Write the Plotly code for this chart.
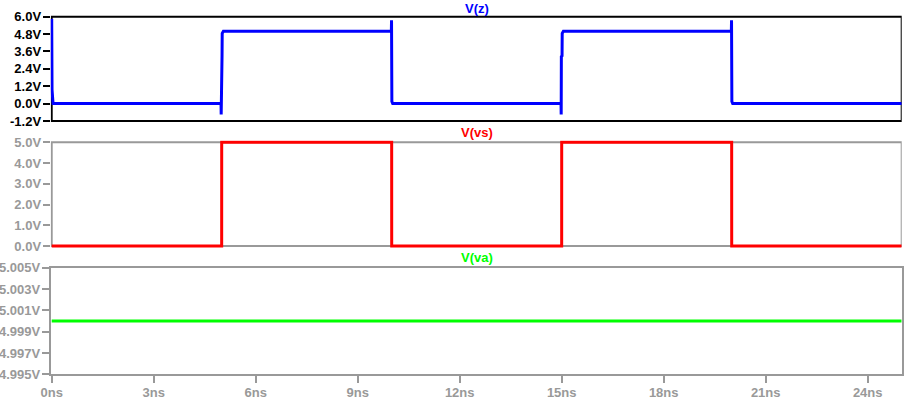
import plotly.graph_objects as go

W, H = 905, 399

# ---- data ----
t_z = [0.0, 0.01, 0.04, 4.98, 4.985, 4.99, 5.01, 5.015, 5.05, 9.99, 9.995, 10.005, 10.03,
       14.98, 14.985, 14.99, 15.01, 15.015, 15.05, 19.99, 19.995, 20.005, 20.03, 25.0]
v_z = [5.85, 0.95, 0.0, 0.0, -0.75, 3.25, 3.3, 4.85, 5.0, 5.0, 5.75, 0.15, 0.0,
       0.0, -0.75, 3.25, 3.3, 4.85, 5.0, 5.0, 5.75, 0.15, 0.0, 0.0]

t_vs = [0.0, 4.999, 5.0, 9.999, 10.0, 14.999, 15.0, 19.999, 20.0, 25.0]
v_vs = [0.0, 0.0, 5.0, 5.0, 0.0, 0.0, 5.0, 5.0, 0.0, 0.0]

t_va = [0.0, 25.0]
v_va = [5.0, 5.0]

x_ticks = [0, 3, 6, 9, 12, 15, 18, 21, 24]
x_ticktext = [f"{v}ns" for v in x_ticks]
z_ticks = [6.0, 4.8, 3.6, 2.4, 1.2, 0.0, -1.2]
z_ticktext = ["6.0V", "4.8V", "3.6V", "2.4V", "1.2V", "0.0V", "-1.2V"]
vs_ticks = [5.0, 4.0, 3.0, 2.0, 1.0, 0.0]
vs_ticktext = ["5.0V", "4.0V", "3.0V", "2.0V", "1.0V", "0.0V"]
va_ticks = [5.005, 5.003, 5.001, 4.999, 4.997, 4.995]
va_ticktext = ["5.005V", "5.003V", "5.001V", "4.999V", "4.997V", "4.995V"]

GRAY = "#999999"
FONT = "Liberation Sans"
FS = 13

def py(px):
    return 1 - px / H

x0px, x1px = 51.7, 901.7
xpadpx = 1.0
ns_per_px = 25.0 / (x1px - x0px)
xrange_ = [0 - xpadpx * ns_per_px, 25]
xdom = [(x0px - xpadpx) / W, x1px / W]

fig = go.Figure()
fig.add_trace(go.Scatter(x=t_z, y=v_z, mode="lines", line=dict(color="#0000ff", width=3),
                         xaxis="x", yaxis="y", showlegend=False))
fig.add_trace(go.Scatter(x=t_vs, y=v_vs, mode="lines", line=dict(color="#ff0000", width=3),
                         xaxis="x2", yaxis="y2", showlegend=False))
fig.add_trace(go.Scatter(x=t_va, y=v_va, mode="lines", line=dict(color="#00ff00", width=3),
                         xaxis="x3", yaxis="y3", showlegend=False))

pad = 2.0
p1 = (16.7, 121.0)
p2 = (142.3, 246.0)
p3 = (267.7, 374.3)

def padded(rng, top, bot):
    lo, hi = rng
    per = (hi - lo) / (bot - top)
    return [lo - pad * per, hi + pad * per], [py(bot + pad), py(top - pad)]

r1, d1 = padded((-1.2, 6.0), *p1)
r2, d2 = padded((0.0, 5.0), *p2)

tickfont_k = dict(family=FONT, size=FS, color="black", weight="bold")
tickfont_g = dict(family=FONT, size=FS, color=GRAY, weight="bold")

xcommon = dict(range=xrange_, domain=xdom, showgrid=False, zeroline=False, fixedrange=True,
               automargin=False)
ycommon = dict(showgrid=False, zeroline=False, automargin=False, ticks="outside", ticklen=7,
               tickwidth=2, layer="below traces", ticklabelstandoff=-1)
fig.update_layout(
    width=W, height=H, autosize=False,
    margin=dict(l=0, r=0, t=0, b=0),
    paper_bgcolor="white", plot_bgcolor="white",
    xaxis=dict(**xcommon, showticklabels=False, ticks="", showline=False, anchor="y"),
    xaxis2=dict(**xcommon, showticklabels=False, ticks="", showline=False, anchor="y2", matches="x"),
    xaxis3=dict(**xcommon, anchor="y3", matches="x", tickvals=x_ticks, ticktext=x_ticktext,
                ticks="outside", ticklen=7, tickwidth=2, tickcolor=GRAY, tickfont=tickfont_g,
                ticklabelstandoff=-2,
                showline=True, linecolor=GRAY, linewidth=2, mirror=True, layer="below traces"),
    yaxis=dict(**ycommon, range=r1, domain=d1, anchor="x",
               tickvals=z_ticks, ticktext=z_ticktext,
               tickcolor="black", tickfont=tickfont_k, showline=False),
    yaxis2=dict(**ycommon, range=r2, domain=d2, anchor="x2",
                tickvals=vs_ticks, ticktext=vs_ticktext,
                tickcolor=GRAY, tickfont=tickfont_g, showline=False),
    yaxis3=dict(**ycommon, range=[4.995, 5.005], domain=[py(p3[1]), py(p3[0])], anchor="x3",
                tickvals=va_ticks, ticktext=va_ticktext, tickcolor=GRAY, tickfont=tickfont_g,
                showline=True, linecolor=GRAY, linewidth=2, mirror=True),
)

fig.add_shape(type="rect", xref="x", yref="y", x0=0, x1=25, y0=-1.2, y1=6.0,
              line=dict(color="black", width=2), layer="below")
fig.add_shape(type="rect", xref="x2", yref="y2", x0=0, x1=25, y0=0.0, y1=5.0,
              line=dict(color=GRAY, width=2), layer="below")

titles = [("V(z)", "#0000ff", 8.3), ("V(vs)", "#ff0000", 132.5), ("V(va)", "#00ff00", 257.5)]
for txt, col, ypx in titles:
    fig.add_annotation(text=txt, x=(x0px + x1px) / 2 / W, y=py(ypx), xref="paper", yref="paper",
                       xanchor="center", yanchor="middle", showarrow=False,
                       font=dict(family=FONT, size=FS, color=col, weight="bold"))

fig.write_html("out.html", config={"displayModeBar": False},
               post_script="document.body.style.margin='0';document.body.style.overflow='hidden';")
